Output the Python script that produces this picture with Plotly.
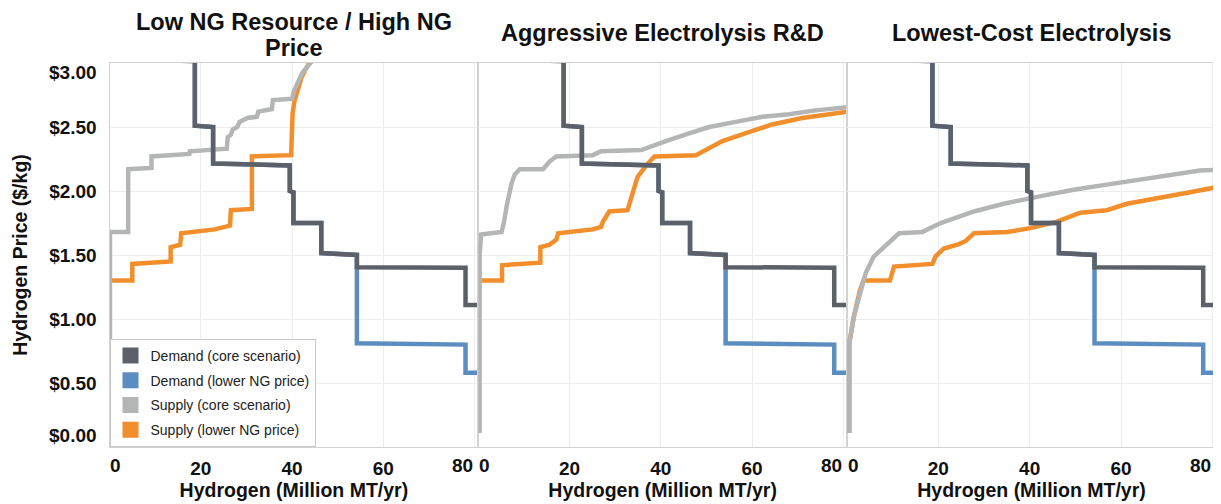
import plotly.graph_objects as go

# ---------------- data ----------------
scenario_title_lines = [["Low NG Resource / High NG", "Price"],
                        ["Aggressive Electrolysis R&D"],
                        ["Lowest-Cost Electrolysis"]]
series_names = ["Demand (core scenario)", "Demand (lower NG price)",
                "Supply (core scenario)", "Supply (lower NG price)"]
series_colors = ["#5B6069", "#5B8EC0", "#B4B6B6", "#F28E2B"]

# Demand curves (identical in every scenario)
demand_core_x = [0, 18.7, 18.7, 22.7, 22.7, 39.5, 39.5, 40.3, 40.3, 46.4, 46.4,
                 54.2, 54.2, 78.0, 78.0, 81.0]
demand_core_y = [3.03, 3.015, 2.51, 2.50, 2.215, 2.20, 2.00, 1.99, 1.75, 1.75,
                 1.515, 1.50, 1.405, 1.40, 1.11, 1.11]
demand_lower_x = [0, 18.7, 18.7, 22.7, 22.7, 39.5, 39.5, 40.3, 40.3, 46.4, 46.4,
                  54.2, 54.2, 78.0, 78.0, 81.0]
demand_lower_y = [3.03, 3.015, 2.51, 2.50, 2.215, 2.20, 2.00, 1.99, 1.75, 1.75,
                  1.515, 1.50, 0.81, 0.80, 0.58, 0.58]

# Scenario 1: Low NG Resource / High NG Price
supply_core_x_1 = [0.1, 0.1, 4.1, 4.1, 9.2, 9.2, 17.5, 17.6, 25.7, 25.9, 26.6,
                   27.0, 28.0, 28.5, 30.2, 32.3, 32.6, 35.6, 35.8, 40.0, 40.4,
                   41.1, 42.2, 43.3, 44.7, 46.5]
supply_core_y_1 = [0.0, 1.68, 1.68, 2.17, 2.18, 2.27, 2.29, 2.31, 2.33, 2.42, 2.44,
                   2.48, 2.50, 2.54, 2.57, 2.58, 2.62, 2.64, 2.71, 2.72, 2.78,
                   2.84, 2.92, 2.97, 3.02, 3.10]
supply_lower_x_1 = [0.1, 5.0, 5.0, 13.4, 13.4, 15.5, 15.7, 23.1, 26.4, 26.6, 31.2,
                    31.2, 39.8, 39.9, 40.1, 40.5, 41.2, 42.0, 42.8, 43.6, 45.0]
supply_lower_y_1 = [1.30, 1.30, 1.43, 1.45, 1.56, 1.58, 1.67, 1.70, 1.73, 1.85, 1.86,
                    2.27, 2.28, 2.45, 2.60, 2.70, 2.80, 2.88, 2.94, 2.99, 3.05]

# Scenario 2: Aggressive Electrolysis R&D
supply_core_x_2 = [0.3, 0.3, 0.6, 5.1, 5.6, 6.2, 7.3, 8.0, 9.1, 14.2, 15.6, 17.1,
                   25.1, 26.9, 35.7, 37.9, 41.9, 46.2, 50.6, 56.4, 62.3, 68.1,
                   73.9, 81.0]
supply_core_y_2 = [0.11, 1.50, 1.66, 1.68, 1.75, 1.88, 2.06, 2.13, 2.17, 2.17, 2.23,
                   2.27, 2.28, 2.31, 2.32, 2.35, 2.40, 2.45, 2.50, 2.54, 2.58, 2.60,
                   2.63, 2.655]
supply_lower_x_2 = [0.3, 5.2, 5.2, 13.6, 13.6, 15.6, 17.1, 17.5, 25.1, 26.9, 27.3,
                    28.7, 32.7, 33.8, 34.9, 36.8, 38.6, 47.7, 53.5, 59.3, 64.4,
                    71.0, 81.0]
supply_lower_y_2 = [1.30, 1.30, 1.42, 1.44, 1.56, 1.58, 1.62, 1.67, 1.70, 1.72, 1.76,
                    1.84, 1.85, 1.98, 2.11, 2.20, 2.27, 2.28, 2.39, 2.46, 2.52,
                    2.57, 2.62]

# Scenario 3: Lowest-Cost Electrolysis
supply_core_x_3 = [0.5, 0.5, 1.5, 3.0, 4.1, 5.9, 8.1, 11.4, 16.5, 20.5, 27.8, 34.3,
                   42.4, 49.6, 56.9, 64.2, 71.5, 77.3, 81.0]
supply_core_y_3 = [0.11, 0.81, 1.02, 1.23, 1.36, 1.49, 1.56, 1.67, 1.68, 1.75, 1.84,
                   1.90, 1.96, 2.01, 2.05, 2.09, 2.125, 2.16, 2.165]
supply_lower_x_3 = [0.5, 0.5, 1.4, 2.8, 3.6, 9.4, 10.3, 18.7, 19.4, 21.2, 24.5,
                    26.0, 27.8, 35.1, 40.2, 46.0, 51.1, 56.9, 61.3, 67.9, 75.1, 81.0]
supply_lower_y_3 = [0.11, 0.81, 1.00, 1.22, 1.30, 1.30, 1.41, 1.43, 1.49, 1.55, 1.585,
                    1.61, 1.67, 1.68, 1.71, 1.76, 1.83, 1.85, 1.90, 1.94, 1.99, 2.03]

x_tickvals = [0, 20, 40, 60, 80]
y_tickvals = [0, 0.5, 1.0, 1.5, 2.0, 2.5, 3.0]
x_title = "Hydrogen (Million MT/yr)"
y_title = "Hydrogen Price ($/kg)"

# ---------------- layout constants ----------------
# The page body has an 8px default margin, so the figure is drawn 8px in
# from the window corner; all screen positions below are converted.
OFF = 8
W, H = 1221 - OFF, 504 - OFF
FONT = "Liberation Sans, Arial, sans-serif"


def sx(p):
    return (p - OFF) / W


def sy(p):
    return 1 - (p - OFF) / H


panel_px = [(109.5, 478.3), (478.3, 847.0), (847.0, 1216.0)]
plot_top, plot_bottom = 63, 447
x_range = [0, 80.8]
y_range = [0, 3.0]
GRID = "#EDEDED"
FRAME = "#D2D2D2"
LW = 4.5

supply_core_x = [supply_core_x_1, supply_core_x_2, supply_core_x_3]
supply_core_y = [supply_core_y_1, supply_core_y_2, supply_core_y_3]
supply_lower_x = [supply_lower_x_1, supply_lower_x_2, supply_lower_x_3]
supply_lower_y = [supply_lower_y_1, supply_lower_y_2, supply_lower_y_3]

fig = go.Figure()

for i in range(3):
    sfx = "" if i == 0 else str(i + 1)
    xa, ya = "x" + sfx, "y" + sfx
    layers = [
        (supply_lower_x[i], supply_lower_y[i], series_colors[3], series_names[3]),
        (supply_core_x[i], supply_core_y[i], series_colors[2], series_names[2]),
        (demand_lower_x, demand_lower_y, series_colors[1], series_names[1]),
        (demand_core_x, demand_core_y, series_colors[0], series_names[0]),
    ]
    for xs, ys, col, nm in layers:
        fig.add_trace(go.Scatter(
            x=xs, y=ys, mode="lines", name=nm, xaxis=xa, yaxis=ya,
            line=dict(color=col, width=LW), showlegend=False, hoverinfo="skip"))

# legend entries (square swatches)
for nm, col in zip(series_names, series_colors):
    fig.add_trace(go.Scatter(
        x=[None], y=[None], mode="markers", name=nm, legendgroup=nm,
        marker=dict(symbol="square", size=16, color=col), showlegend=True))

tick_font = dict(family=FONT, size=19, color="#111111", weight="bold")
title_font = dict(family=FONT, size=19.5, color="#111111", weight="bold")
panel_title_font = dict(family=FONT, size=23.5, color="#111111", weight="bold")

axes = {}
for i in range(3):
    sfx = "" if i == 0 else str(i + 1)
    axes["xaxis" + sfx] = dict(
        domain=[sx(panel_px[i][0]), sx(panel_px[i][1])], range=x_range,
        anchor="y" + sfx, tickvals=x_tickvals,
        ticktext=["" if v in (0, 80) else str(v) for v in x_tickvals],
        showgrid=True, gridcolor=GRID, gridwidth=1, zeroline=False,
        showline=True, mirror=True, linecolor=FRAME, linewidth=1,
        ticks="", tickfont=tick_font, ticklabelstandoff=4,
        title=dict(text=x_title, font=title_font, standoff=4))
    axes["yaxis" + sfx] = dict(
        domain=[sy(plot_bottom), sy(plot_top)], range=y_range,
        anchor="x" + sfx, tickvals=y_tickvals,
        ticktext=["" if v in (0, 3.0) else "${:.2f}".format(v) for v in y_tickvals],
        showticklabels=(i == 0),
        showgrid=True, gridcolor=GRID, gridwidth=1, zeroline=False,
        showline=True, mirror=True, linecolor=FRAME, linewidth=1,
        ticks="", tickfont=tick_font, ticklabelstandoff=8,
        title=dict(text=y_title if i == 0 else "", font=title_font, standoff=16))

annotations = []
# panel titles (the first one wraps onto two lines, as in the original)
for i, lines in enumerate(scenario_title_lines):
    cx = sx((panel_px[i][0] + panel_px[i][1]) / 2)
    centers = [33] if len(lines) == 1 else [22, 48]
    for line, cy in zip(lines, centers):
        annotations.append(dict(
            text=line, xref="paper", yref="paper", x=cx, y=sy(cy),
            xanchor="center", yanchor="middle", showarrow=False,
            font=panel_title_font))
# edge tick labels, nudged inward as in the original
for i in range(3):
    sfx = "" if i == 0 else str(i + 1)
    annotations.append(dict(text=str(x_tickvals[0]), xref="x" + sfx, yref="paper",
                            x=x_tickvals[0], y=sy(465), xanchor="center",
                            yanchor="middle", xshift=6, showarrow=False, font=tick_font))
    annotations.append(dict(text=str(x_tickvals[-1]), xref="x" + sfx, yref="paper",
                            x=x_tickvals[-1], y=sy(465), xanchor="center",
                            yanchor="middle", xshift=-12, showarrow=False, font=tick_font))
annotations.append(dict(text="${:.2f}".format(y_tickvals[-1]), xref="paper", yref="y",
                        x=sx(99), y=y_tickvals[-1], xanchor="right", yanchor="middle",
                        yshift=-10, showarrow=False, font=tick_font))
annotations.append(dict(text="${:.2f}".format(y_tickvals[0]), xref="paper", yref="y",
                        x=sx(99), y=y_tickvals[0], xanchor="right", yanchor="middle",
                        yshift=12, showarrow=False, font=tick_font))

fig.update_layout(
    width=W, height=H, autosize=False,
    margin=dict(l=0, r=0, t=0, b=0, pad=0),
    paper_bgcolor="white", plot_bgcolor="white",
    font=dict(family=FONT, color="#111111"),
    showlegend=True,
    legend=dict(x=sx(109.5), y=sy(447), xanchor="left", yanchor="bottom",
                bgcolor="white", bordercolor="#C8C8C8", borderwidth=1,
                font=dict(family=FONT, size=14, color="#222222"),
                traceorder="grouped", tracegroupgap=3.5, itemclick=False,
                itemdoubleclick=False),
    annotations=annotations,
    hovermode=False,
    **axes)

fig.write_html("out.html")
